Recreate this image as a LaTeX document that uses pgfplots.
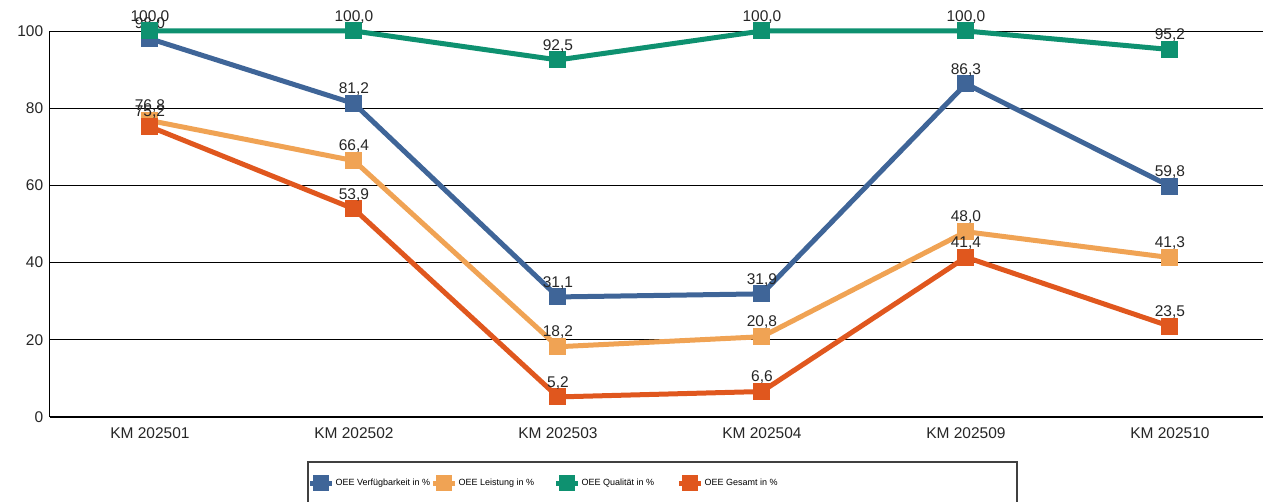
\documentclass[border=0pt]{standalone}
\usepackage{fontspec}
\setmainfont{Liberation Sans}
\usepackage{pgfplots}
\pgfplotsset{compat=1.18}
\definecolor{cblue}{HTML}{3F6598}
\definecolor{corange}{HTML}{F0A354}
\definecolor{cgreen}{HTML}{0E9170}
\definecolor{cred}{HTML}{E0571E}
\begin{document}
\begin{tikzpicture}[x=1pt,y=1pt]
\path[use as bounding box] (0,0) rectangle (1263,502);
\begin{axis}[
  at={(50pt,85pt)}, anchor=south west,
  scale only axis, width=1213pt, height=386pt,
  xmin=-0.49, xmax=5.456, ymin=0, ymax=100,
  xtick={0,1,2,3,4,5},
  xticklabels={KM 202501,KM 202502,KM 202503,KM 202504,KM 202509,KM 202510},
  ytick={0,20,40,60,80,100},
  axis lines*=left,
  axis line style={black, line width=1pt},
  ymajorgrids, grid style={black, line width=0.8pt},
  major tick length=0pt,
  tick label style={font=\fontsize{15.5}{17}\selectfont, text=black!85},
  /pgf/number format/assume math mode=true,
  xticklabel style={yshift=-5pt},
  yticklabel style={xshift=-1pt},
  clip=false,
  line width=5pt,
  mark size=8pt,
  mark options={line width=1pt},
  nodes near coords={\pgfmathprintnumber[fixed,fixed zerofill,precision=1,use comma]{\pgfplotspointmeta}},
  every node near coord/.append style={font=\fontsize{15.5}{17}\selectfont, text=black!85, yshift=4pt},
  legend columns=4,
  legend style={draw=none, fill=none, at={(0.2103,-0.171)}, anchor=west,
    font=\fontsize{9}{11}\selectfont, column sep=0pt, inner sep=0pt,
    nodes={inner xsep=1pt}},
  legend image code/.code={
    \draw[line width=5pt] (0pt,0pt) -- (22pt,0pt);
    \fill (11pt,0pt) +(-5.5pt,-5.5pt) rectangle +(5.5pt,5.5pt);
  },
]
\addplot[color=cblue, mark=square*] coordinates {(0,98.0)(1,81.2)(2,31.1)(3,31.9)(4,86.3)(5,59.8)};
\addlegendentry{\makebox[94pt][l]{OEE Verfügbarkeit in \%}}
\addplot[color=corange, mark=square*] coordinates {(0,76.8)(1,66.4)(2,18.2)(3,20.8)(4,48.0)(5,41.3)};
\addlegendentry{\makebox[94pt][l]{OEE Leistung in \%}}
\addplot[color=cgreen, mark=square*] coordinates {(0,100.0)(1,100.0)(2,92.5)(3,100.0)(4,100.0)(5,95.2)};
\addlegendentry{\makebox[94pt][l]{OEE Qualität in \%}}
\addplot[color=cred, mark=square*] coordinates {(0,75.2)(1,53.9)(2,5.2)(3,6.6)(4,41.4)(5,23.5)};
\addlegendentry{\makebox[94pt][l]{OEE Gesamt in \%}}
\end{axis}
\draw[line width=1.5pt, black!75] (308,40) rectangle (1017,-10);
\end{tikzpicture}
\end{document}
